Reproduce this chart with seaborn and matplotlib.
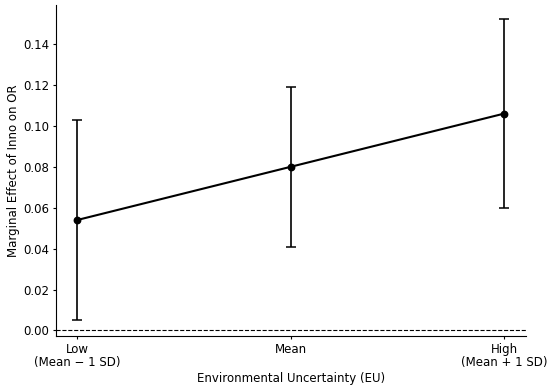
import pandas as pd
import matplotlib
matplotlib.use("Agg")
import matplotlib.pyplot as plt
import seaborn as sns

# Dati: effetto marginale di Inno su OR per livello di EU
levels = ["Low\n(Mean \u2212 1 SD)", "Mean", "High\n(Mean + 1 SD)"]
effect = [0.054, 0.080, 0.106]
ci_low = [0.005, 0.041, 0.060]
ci_high = [0.103, 0.119, 0.152]

df = pd.DataFrame({"level": levels, "effect": effect})

sns.set_style("ticks")
plt.rcParams["font.family"] = ["DejaVu Sans"]
plt.rcParams["text.color"] = "black"
plt.rcParams["axes.labelcolor"] = "black"
plt.rcParams["xtick.color"] = "black"
plt.rcParams["ytick.color"] = "black"
plt.rcParams["axes.edgecolor"] = "black"

fig = plt.figure(figsize=(5.5, 3.86), dpi=100)
ax = fig.add_axes([0.102, 0.13, 0.854, 0.857])

sns.pointplot(data=df, x="level", y="effect", color="black", errorbar=None,
              markers="o", markersize=4.5, linewidth=1.5, ax=ax)

yerr = [[e - lo for e, lo in zip(effect, ci_low)],
        [hi - e for e, hi in zip(effect, ci_high)]]
ax.errorbar(range(len(levels)), effect, yerr=yerr, fmt="none",
            ecolor="black", elinewidth=1.2, capsize=3.5, capthick=1.1)

ax.axhline(0, color="black", linestyle="--", linewidth=0.8)

ax.set_xlim(-0.1, 2.1)
ax.set_ylim(-0.0026, 0.159)
ax.set_yticks([0.00, 0.02, 0.04, 0.06, 0.08, 0.10, 0.12, 0.14])
ax.yaxis.set_major_formatter(matplotlib.ticker.FormatStrFormatter("%.2f"))
ax.tick_params(labelsize=8.5, length=2.5, width=0.8, pad=2.5)
for lbl in ax.get_xticklabels():
    lbl.set_linespacing(1.0)

ax.set_xlabel("Environmental Uncertainty (EU)", fontsize=8.5, labelpad=2)
ax.set_ylabel("Marginal Effect of Inno on OR", fontsize=8.5, labelpad=2.5)
sns.despine(ax=ax)

fig.savefig("out.png", dpi=100)
